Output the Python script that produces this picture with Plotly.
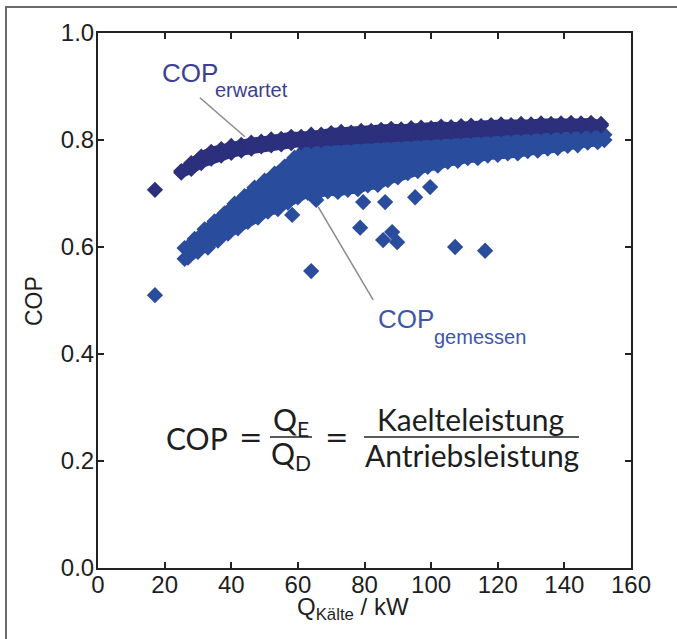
import plotly.graph_objects as go

# ---------------- data ----------------
# COP gemessen (measured) - dense band, upper and lower marker rows
gem_top_x = [26, 29, 32, 35, 38, 41, 44, 47, 50, 53, 56, 59, 62, 66, 70, 80, 90, 100, 110, 120, 130, 140, 150, 152]
gem_top_y = [0.598, 0.615, 0.633, 0.648, 0.663, 0.681, 0.695, 0.711, 0.724, 0.737, 0.750, 0.767, 0.782, 0.788,
             0.792, 0.796, 0.799, 0.803, 0.807, 0.810, 0.812, 0.813, 0.813, 0.810]
gem_bot_x = [26, 27, 30, 33, 36, 39, 42, 45, 48, 51, 54, 57, 60, 63, 66, 69, 72, 75, 78, 81, 84, 87, 90, 93,
             96, 99, 102, 105, 108, 111, 114, 117, 120, 123, 126, 129, 132, 135, 138, 141, 144, 147, 150, 152]
gem_bot_y = [0.578, 0.580, 0.591, 0.599, 0.612, 0.625, 0.635, 0.647, 0.655, 0.666, 0.671, 0.683, 0.693, 0.701,
             0.700, 0.704, 0.703, 0.707, 0.708, 0.715, 0.716, 0.725, 0.730, 0.738, 0.742, 0.750, 0.752, 0.759,
             0.761, 0.766, 0.766, 0.771, 0.772, 0.775, 0.775, 0.779, 0.780, 0.784, 0.785, 0.789, 0.790, 0.795,
             0.796, 0.800]
# isolated measured points
gem_out_x = [17.1, 64.0, 58.3, 65.5, 78.7, 79.6, 85.6, 86.2, 88.3, 89.8, 95.2, 99.7, 107.2, 116.2]
gem_out_y = [0.510, 0.555, 0.660, 0.688, 0.636, 0.684, 0.613, 0.684, 0.628, 0.609, 0.693, 0.712, 0.600, 0.593]

# COP erwartet (expected) - narrow band, upper and lower marker rows
erw_x = [25, 28, 31, 34, 37, 40, 43, 46, 49, 52, 55, 58, 61, 64, 67, 70, 73, 76, 79, 82, 85, 88, 91, 94,
         97, 100, 103, 106, 109, 112, 115, 118, 121, 124, 127, 130, 133, 136, 139, 142, 145, 148, 151]
erw_top = [0.742, 0.757, 0.769, 0.778, 0.783, 0.789, 0.791, 0.795, 0.797, 0.801, 0.802, 0.806, 0.806, 0.810,
           0.810, 0.813, 0.815, 0.814, 0.817, 0.817, 0.819, 0.821, 0.820, 0.822, 0.823, 0.822, 0.825, 0.824,
           0.826, 0.827, 0.826, 0.828, 0.829, 0.828, 0.830, 0.829, 0.831, 0.830, 0.831, 0.832, 0.831, 0.832,
           0.830]
erw_bot = [0.739, 0.746, 0.757, 0.765, 0.771, 0.776, 0.780, 0.784, 0.788, 0.790, 0.792, 0.794, 0.796, 0.798,
           0.800, 0.802, 0.803, 0.804, 0.806, 0.807, 0.808, 0.809, 0.810, 0.811, 0.812, 0.813, 0.814, 0.815,
           0.816, 0.817, 0.818, 0.819, 0.820, 0.821, 0.822, 0.823, 0.824, 0.824, 0.825, 0.826, 0.826, 0.827,
           0.827]
erw_out_x = [17.1]
erw_out_y = [0.707]

x_ticks = [0, 20, 40, 60, 80, 100, 120, 140, 160]
y_ticks = [0.0, 0.2, 0.4, 0.6, 0.8, 1.0]

# ---------------- styling ----------------
C_ERW = "#2b2f7c"
C_GEM = "#2a4c9d"
C_ERW_TXT = "#3c3f94"
C_GEM_TXT = "#3d58ab"
MS = 12.5
FONT = "Liberation Sans, Arial, Helvetica, sans-serif"
FFONT = "Lato, Open Sans, sans-serif"
EQFONT = "DejaVu Sans, sans-serif"

fig = go.Figure()

# measured band: filled outline + diamonds
fig.add_trace(go.Scatter(
    x=gem_top_x + gem_bot_x[::-1], y=gem_top_y + gem_bot_y[::-1],
    fill="toself", fillcolor=C_GEM, mode="lines", line=dict(color=C_GEM, width=9),
    hoverinfo="skip", showlegend=False))
fig.add_trace(go.Scatter(
    x=gem_top_x + gem_bot_x + gem_out_x, y=gem_top_y + gem_bot_y + gem_out_y,
    mode="markers", marker=dict(symbol="diamond", size=MS, color=C_GEM, line=dict(width=0)),
    showlegend=False))

# expected band: filled outline + diamonds
fig.add_trace(go.Scatter(
    x=erw_x + erw_x[::-1], y=erw_top + erw_bot[::-1],
    fill="toself", fillcolor=C_ERW, mode="lines", line=dict(color=C_ERW, width=10),
    hoverinfo="skip", showlegend=False))
fig.add_trace(go.Scatter(
    x=erw_x + erw_x + erw_out_x, y=erw_top + erw_bot + erw_out_y,
    mode="markers", marker=dict(symbol="diamond", size=MS, color=C_ERW, line=dict(width=0)),
    showlegend=False))

L, R, T, B = 98, 46, 33, 71
W, H = 677, 639
PW, PH = W - L - R, H - T - B


def px(xp):
    return (xp - L) / PW


def py(yp):
    return (H - B - yp) / PH


axis_common = dict(
    showline=True, linecolor="#222222", linewidth=2, mirror="allticks",
    ticks="inside", ticklen=6, tickwidth=1.5, tickcolor="#222222",
    showgrid=False, zeroline=False, automargin=False,
    tickfont=dict(family=FONT, size=24, color="#1e1e1e"),
)

fig.update_layout(
    width=W, height=H,
    margin=dict(l=L, r=R, t=T, b=B),
    paper_bgcolor="white", plot_bgcolor="white",
    xaxis=dict(range=[0, 160], tickvals=x_ticks, ticktext=[str(v) for v in x_ticks],
               ticklabelstandoff=-6, **axis_common),
    yaxis=dict(range=[0, 1], tickvals=y_ticks, ticktext=[f"{v:.1f}" for v in y_ticks],
               ticklabelstandoff=-3, **axis_common),
    showlegend=False,
)

shapes = []
# frame of the figure (left and top edges)
shapes.append(dict(type="line", xref="paper", yref="paper", x0=px(6), x1=px(6), y0=py(6), y1=py(639),
                   line=dict(color="#6a6a6a", width=2)))
shapes.append(dict(type="line", xref="paper", yref="paper", x0=px(6), x1=px(677), y0=py(7), y1=py(7),
                   line=dict(color="#6a6a6a", width=2)))
# leader lines
shapes.append(dict(type="line", xref="x", yref="y", x0=30.6, y0=0.879, x1=44.1, y1=0.806,
                   line=dict(color="#8a8a8a", width=1.5)))
shapes.append(dict(type="line", xref="x", yref="y", x0=66.1, y0=0.675, x1=82.6, y1=0.501,
                   line=dict(color="#8a8a8a", width=1.5)))
# fraction bars
shapes.append(dict(type="line", xref="paper", yref="paper", x0=px(270), x1=px(312), y0=py(437), y1=py(437),
                   line=dict(color="#222222", width=1.5)))
shapes.append(dict(type="line", xref="paper", yref="paper", x0=px(364), x1=px(579), y0=py(437), y1=py(437),
                   line=dict(color="#222222", width=1.5)))
fig.update_layout(shapes=shapes)

ann = []


def add(text, x, y, size, color="#1e1e1e", family=FONT, xanchor="center", yanchor="middle", angle=0):
    ann.append(dict(text=text, x=px(x), y=py(y), xref="paper", yref="paper", showarrow=False,
                    xanchor=xanchor, yanchor=yanchor, textangle=angle,
                    font=dict(family=family, size=size, color=color)))


# series labels
add("COP", 160, 73, 26, C_ERW_TXT, xanchor="left")
add("erwartet", 213, 90, 20, C_ERW_TXT, xanchor="left")
add("COP", 376, 319, 26, C_GEM_TXT, xanchor="left")
add("gemessen", 432, 337, 20, C_GEM_TXT, xanchor="left")
# formula
add("COP", 197, 438, 30, family=FFONT)
add("=", 250, 437, 28, family=EQFONT)
add("Q<sub>E</sub>", 291, 421, 30, family=FFONT)
add("Q<sub>D</sub>", 291, 455, 30, family=FFONT)
add("=", 336, 437, 28, family=EQFONT)
add("Kaelteleistung", 470, 419, 30, family=FFONT)
add("Antriebsleistung", 472, 455, 30, family=FFONT)
# axis titles
add("COP", 34, 301, 23, angle=-90)
add("Q<sub>Kälte</sub> / kW", 353, 608, 24)
fig.update_layout(annotations=ann)

fig.write_html("out.html", config={"displayModeBar": False},
               post_script="document.body.style.margin='0';document.body.style.overflow='hidden';")
